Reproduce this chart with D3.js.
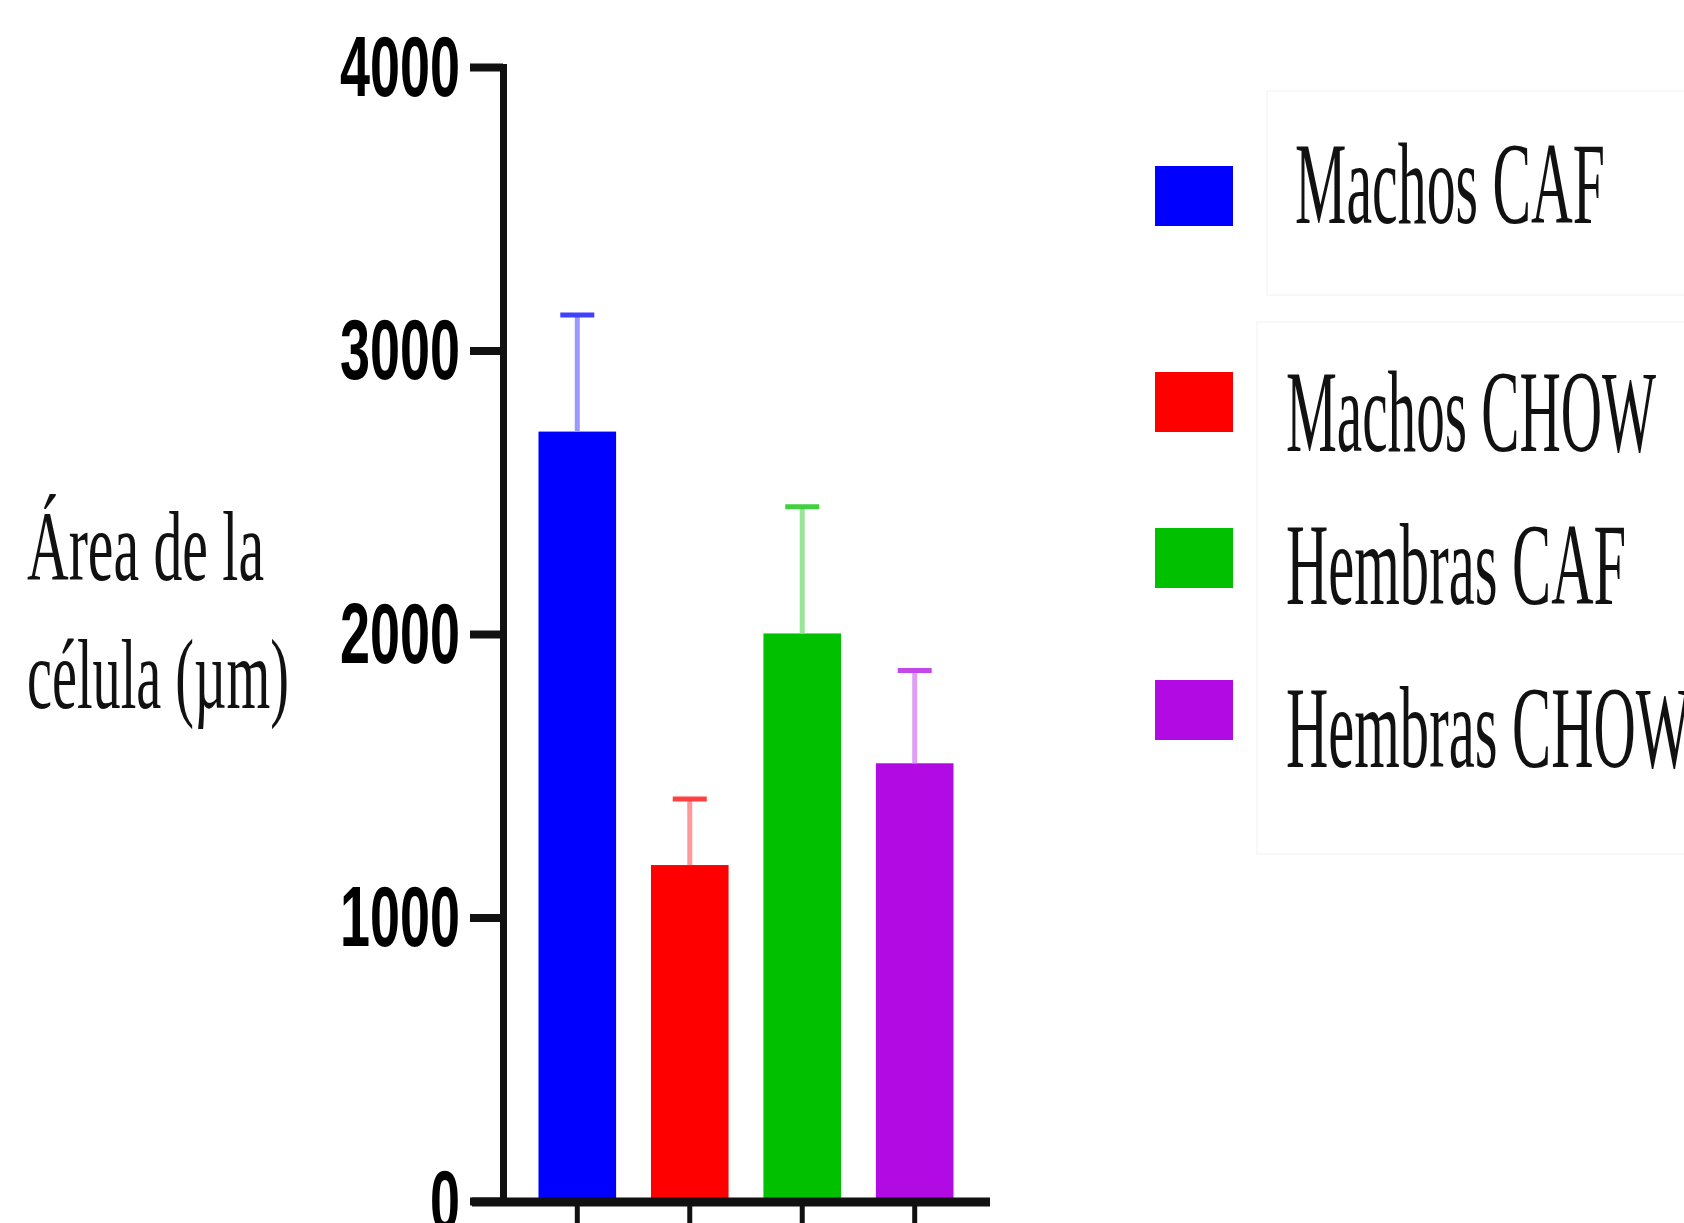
<!DOCTYPE html>
<html>
<head>
<meta charset="utf-8">
<script src="https://cdn.jsdelivr.net/npm/d3@7"></script>
<style>
  html, body { margin: 0; padding: 0; background: #fff; }
</style>
</head>
<body>
<script>
// chart data
var groups = ["Machos CAF", "Machos CHOW", "Hembras CAF", "Hembras CHOW"];
var means  = [2714, 1185, 2002, 1544];
var sems   = [411, 233, 447, 327];
var colors = ["#0000ff", "#ff0000", "#00c000", "#b10ae3"];
var yTicks = [0, 1000, 2000, 3000, 4000];
var yLabel = ["Área de la", "célula (µm)"];

var W = 1684, H = 1223;

var svg = d3.select("body").append("svg")
    .attr("width", W)
    .attr("height", H);

// scales
var y = d3.scaleLinear().domain([0, 4000]).range([1201, 67]);
var x = d3.scaleBand().domain(groups)
    .range([516, 976])
    .paddingInner(0.31)
    .paddingOuter(0.2);
var axisX = 503;

// bars
svg.selectAll("rect.bar")
    .data(groups)
  .enter().append("rect")
    .attr("class", "bar")
    .attr("x", function(d) { return x(d); })
    .attr("width", x.bandwidth())
    .attr("y", function(d, i) { return y(means[i]); })
    .attr("height", function(d, i) { return y(0) - y(means[i]); })
    .attr("fill", function(d, i) { return colors[i]; });

// error bars (upper only)
var err = svg.append("g");
groups.forEach(function(g, i) {
  var cx = x(g) + x.bandwidth() / 2;
  err.append("line")
      .attr("x1", cx).attr("x2", cx)
      .attr("y1", y(means[i])).attr("y2", y(means[i] + sems[i]))
      .attr("stroke", d3.interpolateRgb(colors[i], "#fff")(0.6))
      .attr("stroke-width", 5);
  err.append("line")
      .attr("x1", cx - 17).attr("x2", cx + 17)
      .attr("y1", y(means[i] + sems[i])).attr("y2", y(means[i] + sems[i]))
      .attr("stroke", d3.interpolateRgb(colors[i], "#fff")(0.25))
      .attr("stroke-width", 5);
});

// y axis
var yAxis = svg.append("g")
    .attr("transform", "translate(" + axisX + ",0)")
    .call(d3.axisLeft(y).tickValues(yTicks).tickFormat(d3.format("d"))
      .tickSize(33).tickSizeOuter(0).tickPadding(10));
yAxis.select(".domain")
    .attr("stroke", "#111")
    .attr("stroke-width", 7)
    .attr("stroke-linecap", "square");
yAxis.selectAll(".tick line")
    .attr("stroke", "#111")
    .attr("stroke-width", 8);
yAxis.selectAll(".tick text")
    .attr("fill", "#000")
    .style("font-family", "'Liberation Sans', Arial, sans-serif")
    .style("font-weight", "bold")
    .style("font-size", "86px")
    .attr("dy", "0.33em")
    .attr("textLength", function(d) { return 30 * String(d).length; })
    .attr("lengthAdjust", "spacingAndGlyphs");

// x axis line and ticks
svg.append("line")
    .attr("x1", axisX - 31).attr("x2", 990)
    .attr("y1", y(0) + 1).attr("y2", y(0) + 1)
    .attr("stroke", "#111")
    .attr("stroke-width", 9);
var xAxis = svg.append("g")
    .attr("transform", "translate(0," + (y(0) + 1) + ")")
    .call(d3.axisBottom(x).tickSize(30).tickFormat(""));
xAxis.select(".domain").remove();
xAxis.selectAll(".tick line")
    .attr("stroke", "#111")
    .attr("stroke-width", 5);

// y axis title
svg.append("text")
    .style("font-family", "'Liberation Serif', 'Times New Roman', serif")
    .style("font-size", "100px")
    .attr("fill", "#111")
  .selectAll("tspan")
    .data(yLabel)
  .enter().append("tspan")
    .attr("x", 27)
    .attr("y", function(d, i) { return 580 + i * 128; })
    .attr("textLength", function(d, i) { return i ? 262 : 237; })
    .attr("lengthAdjust", "spacingAndGlyphs")
    .text(function(d) { return d; });

// legend frames (very faint)
svg.append("rect")
    .attr("x", 1267).attr("y", 91).attr("width", 440).attr("height", 204)
    .attr("fill", "none").attr("stroke", "#f8f8f8").attr("stroke-width", 2);
svg.append("rect")
    .attr("x", 1257).attr("y", 322).attr("width", 450).attr("height", 532)
    .attr("fill", "none").attr("stroke", "#f8f8f8").attr("stroke-width", 2);

// legend
var legSwatchY = [166, 372, 528, 680];
var legTextY   = [223, 451, 604, 767];
var legTextX   = [1295, 1286, 1286, 1286];
var legTextW   = [310, 370, 340, 405];
var legend = svg.append("g");
groups.forEach(function(g, i) {
  legend.append("rect")
      .attr("x", 1155).attr("y", legSwatchY[i])
      .attr("width", 78).attr("height", 60)
      .attr("fill", colors[i]);
  legend.append("text")
      .attr("x", legTextX[i]).attr("y", legTextY[i])
      .attr("textLength", legTextW[i])
      .attr("lengthAdjust", "spacingAndGlyphs")
      .style("font-family", "'Liberation Serif', 'Times New Roman', serif")
      .style("font-size", "116px")
      .attr("fill", "#111")
      .text(g);
});
</script>
</body>
</html>
